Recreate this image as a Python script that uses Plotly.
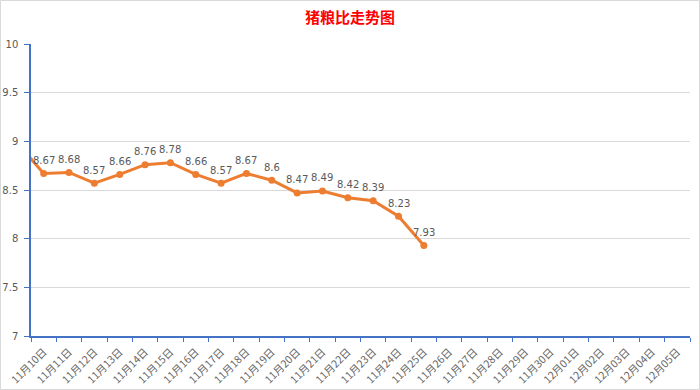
import plotly.graph_objects as go

# categories shown on the axis
dates = ["11月10日", "11月11日", "11月12日", "11月13日", "11月14日", "11月15日", "11月16日",
         "11月17日", "11月18日", "11月19日", "11月20日", "11月21日", "11月22日", "11月23日",
         "11月24日", "11月25日", "11月26日", "11月27日", "11月28日", "11月29日", "11月30日",
         "12月01日", "12月02日", "12月03日", "12月04日", "12月05日"]
# previous day (just outside the visible range; the line enters from the left edge)
prev_date = "11月09日"
prev_value = 8.97
values = [8.67, 8.68, 8.57, 8.66, 8.76, 8.78, 8.66, 8.57, 8.67, 8.6,
          8.47, 8.49, 8.42, 8.39, 8.23, 7.93]

all_cats = [prev_date] + dates
xs = [prev_date] + dates[:len(values)]
ys = [prev_value] + values

fig = go.Figure()
fig.add_trace(go.Scatter(
    x=xs, y=ys, mode="lines+markers",
    line=dict(color="#ED7D31", width=3),
    marker=dict(color="#ED7D31", size=7),
    cliponaxis=True, hoverinfo="x+y",
))

for d, v in zip(dates, values):
    fig.add_annotation(x=d, y=v, text=f"{v:g}", showarrow=False,
                       yshift=13, font=dict(family="DejaVu Sans", size=10, color="#595959"))

axis_blue = "#4472C4"
fig.update_layout(
    width=700, height=390,
    margin=dict(l=31, r=10, t=44, b=54, autoexpand=False),
    paper_bgcolor="white", plot_bgcolor="white",
    showlegend=False,
    title=dict(text="<b>猪粮比走势图</b>", x=0.5, xanchor="center", xref="container",
               y=1 - 18 / 390, yanchor="middle", yref="container",
               font=dict(family="Noto Sans CJK SC", size=15, color="#FF0000")),
    xaxis=dict(
        type="category", categoryorder="array", categoryarray=all_cats,
        range=[0.5, len(all_cats) - 0.5], automargin=False,
        tickmode="array", tickvals=dates, ticktext=dates,
        tickson="boundaries", ticks="outside", ticklen=4, tickcolor=axis_blue,
        showline=True, linecolor=axis_blue, linewidth=1.5,
        showgrid=False, tickangle=-45, ticklabelstandoff=4,
        tickfont=dict(family="Noto Sans CJK SC", size=10.5, color="#666666"),
    ),
    yaxis=dict(
        range=[7, 10], dtick=0.5, tick0=7, automargin=False,
        showline=True, linecolor=axis_blue, linewidth=1.5,
        ticks="outside", ticklen=5, tickcolor=axis_blue,
        showgrid=True, gridcolor="#D9D9D9", gridwidth=1,
        zeroline=False,
        tickfont=dict(family="DejaVu Sans", size=10, color="#595959"),
        ticklabelstandoff=4,
    ),
)

# light chart-area border
fig.add_shape(type="rect", xref="paper", yref="paper",
              x0=-30.5 / 659, x1=1 + 9.5 / 659, y0=-53.5 / 292, y1=1 + 43.5 / 292,
              line=dict(color="#D9D9D9", width=1), fillcolor="rgba(0,0,0,0)", layer="below")

fig.write_html("out.html", config={"displayModeBar": False},
               post_script="document.body.style.margin='0';document.body.style.padding='0';")
